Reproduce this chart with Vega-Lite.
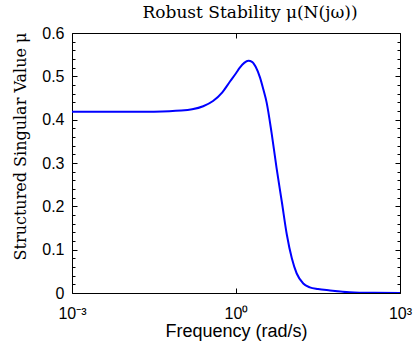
{
  "$schema": "https://vega.github.io/schema/vega-lite/v6.json",
  "autosize": {"type": "none"},
  "width": 328,
  "height": 260,
  "padding": {"left": 72, "top": 33, "right": 17, "bottom": 53},
  "background": "white",
  "title": {
    "text": "Robust Stability μ(N(jω))",
    "font": "DejaVu Serif",
    "fontSize": 17,
    "fontWeight": "normal",
    "color": "black",
    "anchor": "middle",
    "dx": 14,
    "offset": 3
  },
  "data": {
    "values": [
      {"freq": 0.001, "mu": 0.418},
      {"freq": 0.01, "mu": 0.418},
      {"freq": 0.0316, "mu": 0.4185},
      {"freq": 0.1, "mu": 0.421},
      {"freq": 0.158, "mu": 0.424},
      {"freq": 0.251, "mu": 0.431},
      {"freq": 0.38, "mu": 0.443},
      {"freq": 0.562, "mu": 0.463},
      {"freq": 0.776, "mu": 0.488},
      {"freq": 1.0, "mu": 0.507},
      {"freq": 1.175, "mu": 0.52},
      {"freq": 1.413, "mu": 0.531},
      {"freq": 1.679, "mu": 0.536},
      {"freq": 1.995, "mu": 0.533},
      {"freq": 2.29, "mu": 0.522},
      {"freq": 2.754, "mu": 0.497},
      {"freq": 3.16, "mu": 0.47},
      {"freq": 3.63, "mu": 0.44},
      {"freq": 4.47, "mu": 0.37},
      {"freq": 5.5, "mu": 0.29},
      {"freq": 6.9, "mu": 0.21},
      {"freq": 8.5, "mu": 0.135},
      {"freq": 10.5, "mu": 0.08},
      {"freq": 12.9, "mu": 0.045},
      {"freq": 17, "mu": 0.022},
      {"freq": 22.4, "mu": 0.013},
      {"freq": 31.6, "mu": 0.009},
      {"freq": 52.5, "mu": 0.006},
      {"freq": 120, "mu": 0.002},
      {"freq": 316, "mu": 0.0005},
      {"freq": 1000, "mu": 0.0001}
    ]
  },
  "config": {
    "view": {"stroke": null},
    "axis": {
      "domainColor": "black",
      "domainWidth": 1,
      "tickColor": "black",
      "tickWidth": 1,
      "labelColor": "black",
      "titleColor": "black",
      "grid": false,
      "labelFont": "Liberation Sans",
      "labelFontSize": 16,
      "titleFontWeight": "normal"
    }
  },
  "resolve": {"axis": {"x": "independent", "y": "independent"}},
  "layer": [
    {
      "mark": {"type": "line", "stroke": "#0000ff", "strokeWidth": 2, "interpolate": "monotone", "clip": true},
      "encoding": {
        "x": {
          "field": "freq", "type": "quantitative",
          "scale": {"type": "log", "domain": [0.001, 1000], "nice": false},
          "axis": {
            "orient": "bottom",
            "values": [0.001, 1, 1000],
            "labelExpr": "datum.value < 0.01 ? '10⁻³' : (datum.value < 10 ? '10⁰' : '10³')",
            "tickSize": -5,
            "labelPadding": 17,
            "labelFlush": false,
            "labelOverlap": false,
            "title": "Frequency (rad/s)",
            "titleFont": "Liberation Sans",
            "titleFontSize": 18,
            "titlePadding": 1
          }
        },
        "y": {
          "field": "mu", "type": "quantitative",
          "scale": {"domain": [0, 0.6], "nice": false},
          "axis": {
            "orient": "left",
            "values": [0,0.02,0.04,0.06,0.08,0.1,0.12,0.14,0.16,0.18,0.2,0.22,0.24,0.26,0.28,0.3,0.32,0.34,0.36,0.38,0.4,0.42,0.44,0.46,0.48,0.5,0.52,0.54,0.56,0.58,0.6],
            "labelExpr": "abs(datum.value*10 - round(datum.value*10)) < 0.001 ? (datum.value == 0 ? '0' : format(datum.value, '.1f')) : ''",
            "tickSize": {"condition": {"test": "abs(datum.value*10 - round(datum.value*10)) < 0.001", "value": -5}, "value": -3},
            "labelPadding": 13,
            "labelFlush": false,
            "labelOverlap": false,
            "title": "Structured Singular Value μ",
            "titleFont": "DejaVu Serif",
            "titleFontSize": 16,
            "titleX": -52,
            "titleY": 113,
            "titleBaseline": "middle",
            "titleAngle": -90
          }
        }
      }
    },
    {
      "mark": {"type": "line", "strokeOpacity": 0},
      "encoding": {
        "x": {
          "field": "freq", "type": "quantitative",
          "axis": {
            "orient": "top",
            "values": [0.001, 1, 1000],
            "labels": false,
            "tickSize": -5,
            "title": null
          }
        },
        "y": {
          "field": "mu", "type": "quantitative",
          "axis": {
            "orient": "right",
            "values": [0,0.02,0.04,0.06,0.08,0.1,0.12,0.14,0.16,0.18,0.2,0.22,0.24,0.26,0.28,0.3,0.32,0.34,0.36,0.38,0.4,0.42,0.44,0.46,0.48,0.5,0.52,0.54,0.56,0.58,0.6],
            "labels": false,
            "tickSize": {"condition": {"test": "abs(datum.value*10 - round(datum.value*10)) < 0.001", "value": -5}, "value": -3},
            "title": null
          }
        }
      }
    }
  ]
}
